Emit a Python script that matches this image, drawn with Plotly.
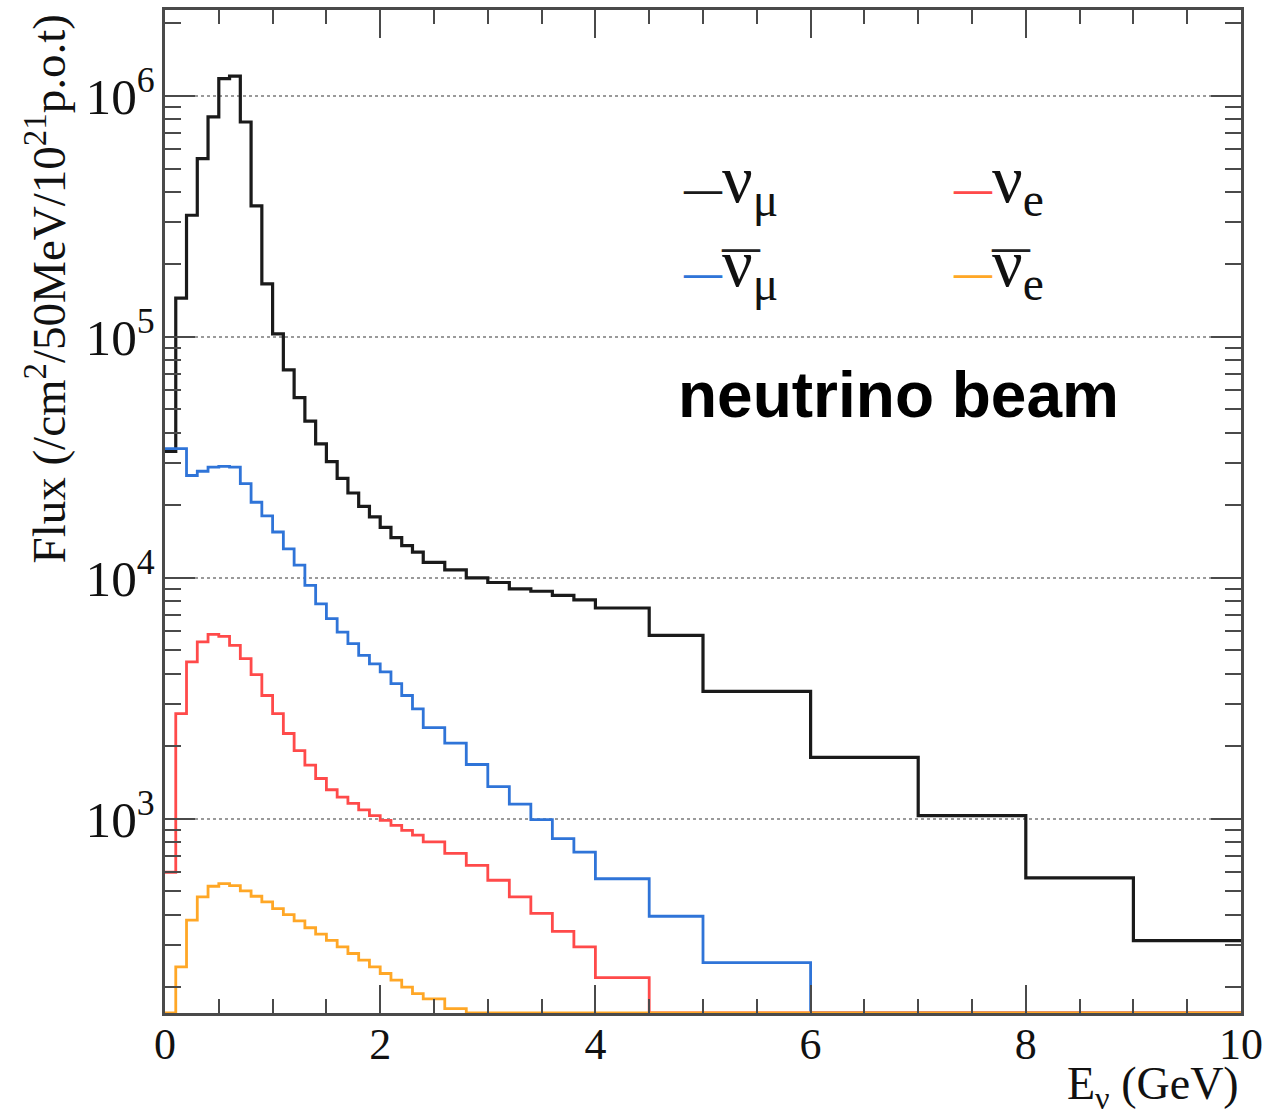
import plotly.graph_objects as go

# ---------------- data ----------------
bin_edges = [round(0.1 * i, 1) for i in range(25)] + [2.6, 2.8, 3.0, 3.2, 3.4, 3.6, 3.8, 4.0] + [4.5, 5.0] + [6.0, 7.0, 8.0, 9.0, 10.0]

numu = [3.35e4, 1.45e5, 3.2e5, 5.5e5, 8.2e5, 1.18e6, 1.21e6, 7.8e5, 3.5e5, 1.66e5,
        1.03e5, 7.3e4, 5.6e4, 4.47e4, 3.6e4, 3.04e4, 2.59e4, 2.25e4, 1.98e4, 1.79e4,
        1.62e4, 1.47e4, 1.36e4, 1.28e4,
        1.16e4, 1.08e4, 1.0e4, 9.57e3, 9.0e3, 8.8e3, 8.46e3, 8.1e3,
        7.5e3, 5.77e3,
        3.38e3, 1.8e3, 1.03e3, 569, 312]

numubar = [3.44e4, 3.44e4, 2.66e4, 2.77e4, 2.88e4, 2.9e4, 2.88e4, 2.46e4, 2.06e4, 1.81e4,
           1.55e4, 1.32e4, 1.13e4, 9.3e3, 7.8e3, 6.77e3, 5.96e3, 5.33e3, 4.77e3, 4.4e3,
           4.07e3, 3.64e3, 3.25e3, 2.86e3,
           2.39e3, 2.06e3, 1.68e3, 1.36e3, 1.15e3, 993, 828, 728,
           564, 394,
           253, 0, 0, 0, 0]

nue = [600, 2.73e3, 4.48e3, 5.42e3, 5.83e3, 5.72e3, 5.25e3, 4.62e3, 3.97e3, 3.25e3,
       2.73e3, 2.26e3, 1.92e3, 1.67e3, 1.47e3, 1.32e3, 1.23e3, 1.16e3, 1.09e3, 1.03e3,
       986, 940, 896, 855,
       802, 718, 641, 556, 474, 405, 341, 294,
       219, 0,
       0, 0, 0, 0, 0]

nuebar = [0, 243, 380, 474, 525, 538, 528, 502, 477, 452,
          424, 400, 377, 353, 332, 313, 294, 276, 259, 243,
          228, 214, 200, 188,
          179, 163, 0, 0, 0, 0, 0, 0,
          0, 0,
          0, 0, 0, 0, 0]

series_names = ["numu", "numubar", "nue", "nuebar"]
series_colors = {"numu": "#1a1a1a", "numubar": "#2f74d8", "nue": "#ff4a4a", "nuebar": "#ffa726"}
series_width = {"numu": 3.2, "numubar": 2.8, "nue": 2.8, "nuebar": 2.8}

# y-axis range (log10)
Y_LOG_MIN = 2.194
Y_LOG_MAX = 6.357
Y_FLOOR = 10 ** Y_LOG_MIN

# ---------------- figure ----------------
fig = go.Figure()
data = {"numu": numu, "numubar": numubar, "nue": nue, "nuebar": nuebar}
for name in series_names:
    vals = [v if v > 0 else Y_FLOOR for v in data[name]]
    ys = vals + [vals[-1]]
    fig.add_trace(go.Scatter(
        x=bin_edges, y=ys, mode="lines", line_shape="hv",
        line=dict(color=series_colors[name], width=series_width[name]),
        showlegend=False, hoverinfo="skip", cliponaxis=False,
    ))

W, H = 1266, 1117
PL, PR, PT, PB = 165, 1241, 10, 1013   # target plot box in screen pixels
L, T = PL, PT
pw, ph = PR - PL, PB - PT
R = W - L - pw
B = H - T - ph

def px(xs):
    return (xs - PL) / pw

def py(ys):
    return (PB - ys) / ph

serif = "Liberation Serif"
axcol = "#4a4a4a"

fig.update_layout(
    width=W, height=H,
    margin=dict(l=L, r=R, t=T, b=B, autoexpand=False),
    plot_bgcolor="white", paper_bgcolor="white",
    xaxis=dict(
        range=[0, 10], tickmode="linear", tick0=0, dtick=2,
        ticks="inside", ticklen=28, tickwidth=2, tickcolor=axcol,
        minor=dict(dtick=0.5, ticks="inside", ticklen=14, tickwidth=2, tickcolor=axcol, showgrid=False),
        showline=True, linecolor=axcol, linewidth=3, mirror="allticks",
        showgrid=False, zeroline=False,
        tickfont=dict(family=serif, size=44, color="#111"),
        ticklabelstandoff=-10, ticklabeloverflow="allow",
    ),
    yaxis=dict(
        type="log", range=[Y_LOG_MIN, Y_LOG_MAX],
        tickmode="linear", tick0=0, dtick=1, exponentformat="power",
        ticks="inside", ticklen=30, tickwidth=2, tickcolor=axcol,
        minor=dict(dtick="D1", ticks="inside", ticklen=16, tickwidth=2, tickcolor=axcol, showgrid=False),
        showline=True, linecolor=axcol, linewidth=3, mirror="allticks",
        showgrid=True, gridcolor="#9a9a9a", griddash="dot", gridwidth=1.5,
        zeroline=False,
        tickfont=dict(family=serif, size=41, color="#111"),
        ticklabelstandoff=-1,
    ),
)

annotations = []
# axis titles
annotations.append(dict(
    text="Flux (/cm<sup>2</sup>/50MeV/10<sup>21</sup>p.o.t)",
    xref="paper", yref="paper", x=px(46), y=py(13), xanchor="center", yanchor="top",
    textangle=-90, showarrow=False, font=dict(family=serif, size=47, color="#111"),
))
annotations.append(dict(
    text="E<sub>ν</sub> (GeV)",
    xref="paper", yref="paper", x=px(1241), y=py(1087), xanchor="right", yanchor="middle",
    showarrow=False, font=dict(family=serif, size=46, color="#111"),
))
# legend entries
legend_items = [
    ("numu", "ν<sub>μ</sub>", False, 681, 184),
    ("nue", "ν<sub>e</sub>", False, 951, 184),
    ("numubar", "ν<sub>μ</sub>", True, 681, 268),
    ("nuebar", "ν<sub>e</sub>", True, 951, 268),
]
for name, label, bar, xl, yc in legend_items:
    annotations.append(dict(
        text=f'<span style="color:{series_colors[name]};font-size:38px;font-weight:bold">—</span>{label}',
        xref="paper", yref="paper", x=px(xl), y=py(yc), xanchor="left", yanchor="middle",
        showarrow=False, font=dict(family=serif, size=68, color="#111"),
    ))
    if bar:
        annotations.append(dict(
            text="<b>—</b>",
            xref="paper", yref="paper", x=px(xl + 60), y=py(yc - 21), xanchor="center", yanchor="middle",
            showarrow=False, font=dict(family=serif, size=38, color="#222"),
        ))
annotations.append(dict(
    text="<b>neutrino beam</b>",
    xref="paper", yref="paper", x=px(676), y=py(395), xanchor="left", yanchor="middle",
    showarrow=False, font=dict(family="Liberation Sans", size=64, color="#000"),
))
fig.update_layout(annotations=annotations)

fig.write_html(
    "out.html",
    config={"displayModeBar": False},
    post_script="document.body.style.margin='0px';document.body.style.overflow='hidden';",
)
